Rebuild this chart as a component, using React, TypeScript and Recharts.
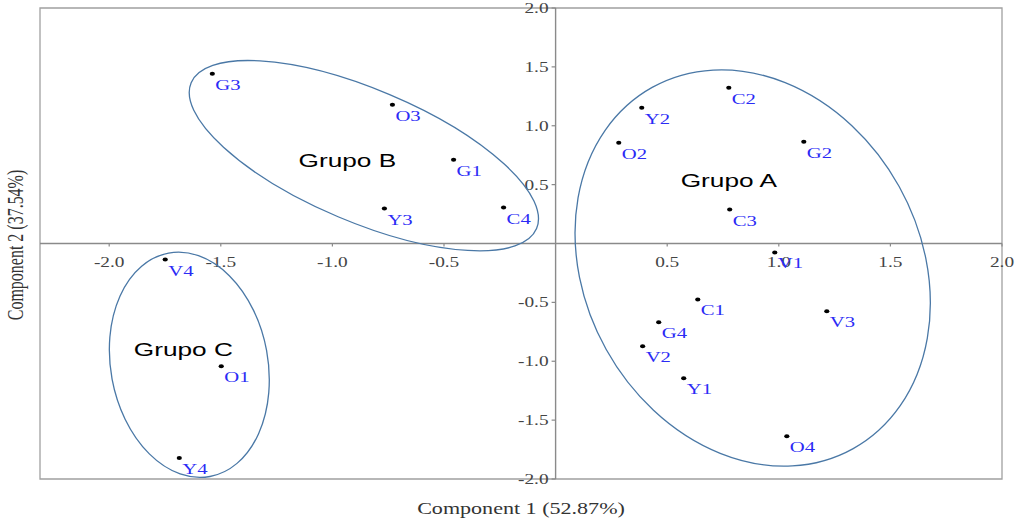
import {
  ScatterChart,
  Scatter,
  XAxis,
  YAxis,
  ReferenceLine,
  ReferenceDot,
  ReferenceArea,
} from "recharts";

// sample scores
const labels = ["G3", "O3", "G1", "Y3", "C4", "V4", "O1", "Y4", "C2", "Y2", "O2", "G2", "C3", "V1", "C1", "V3", "G4", "V2", "Y1", "O4"];
const comp1 = [-1.538, -0.731, -0.457, -0.767, -0.233, -1.749, -1.498, -1.686, 0.776, 0.386, 0.283, 1.112, 0.78, 0.982, 0.637, 1.215, 0.462, 0.39, 0.574, 1.036];
const comp2 = [1.441, 1.178, 0.712, 0.297, 0.305, -0.136, -1.042, -1.822, 1.322, 1.153, 0.856, 0.864, 0.288, -0.076, -0.475, -0.576, -0.669, -0.873, -1.144, -1.636];

const xTicks = [-2.0, -1.5, -1.0, -0.5, 0.5, 1.0, 1.5, 2.0];
const yTicks = [2.0, 1.5, 1.0, 0.5, -0.5, -1.0, -1.5, -2.0];

// group annotations
const groupNames = ["Grupo A", "Grupo B", "Grupo C"];
const groupLabelX = [0.776, -0.933, -1.668];
const groupLabelY = [0.483, 0.653, -0.958];
const ellipseX = [0.883, -0.859, -1.641];
const ellipseY = [-0.208, 0.746, -1.03];
// semi-axes in Component 1 units, angle in screen degrees
const ellipseA = [0.926, 0.84, 0.509];
const ellipseB = [0.751, 0.297, 0.352];
const ellipseAngle = [60.9, 22.9, 79.5];

const X_MIN = -2.31;
const X_MAX = 2;
const W = 1018;
const H = 521;
const margin = { top: 8, right: 16, bottom: 42, left: 40 };
const PX = (W - margin.left - margin.right) / (X_MAX - X_MIN);
const SX = 1.38; // the source image is stretched sideways

const serif = "'Liberation Serif', 'Times New Roman', serif";
const sans = "'Liberation Sans', Arial, sans-serif";
const axisGray = "#8a8a8a";

const points = labels.map((name, i) => ({ name, x: comp1[i], y: comp2[i] }));

const PointShape = (p: any) => (
  <g>
    <ellipse cx={p.cx} cy={p.cy} rx={2.6} ry={2} fill="#000" />
    <text
      transform={`translate(${p.cx + 3},${p.cy + 16}) scale(${SX},1)`}
      fontFamily={serif}
      fontSize={15}
      fill="#2b2bf5"
    >
      {p.payload.name}
    </text>
  </g>
);

const xTickShape = (t: number) => (p: any) => (
  <g>
    <line x1={p.cx} y1={p.cy} x2={p.cx} y2={p.cy + 3} stroke={axisGray} strokeWidth={1.2} />
    <text
      transform={`translate(${p.cx},${p.cy + 23}) scale(${SX},1)`}
      textAnchor="middle"
      fontFamily={serif}
      fontSize={14}
      fill="#444"
    >
      {t.toFixed(1)}
    </text>
  </g>
);

const yTickShape = (t: number) => (p: any) => (
  <g>
    <line x1={p.cx - 4} y1={p.cy} x2={p.cx} y2={p.cy} stroke={axisGray} strokeWidth={1.2} />
    <text
      transform={`translate(${p.cx - 7},${p.cy + 5}) scale(${SX},1)`}
      textAnchor="end"
      fontFamily={serif}
      fontSize={14}
      fill="#444"
    >
      {t.toFixed(1)}
    </text>
  </g>
);

const ellipseShape = (i: number) => (p: any) => (
  <ellipse
    cx={p.cx}
    cy={p.cy}
    rx={ellipseA[i] * PX}
    ry={ellipseB[i] * PX}
    transform={`rotate(${ellipseAngle[i]} ${p.cx} ${p.cy})`}
    fill="none"
    stroke="#4a78a6"
    strokeWidth={1.3}
  />
);

const groupShape = (i: number) => (p: any) => (
  <text
    transform={`translate(${p.cx},${p.cy}) scale(${SX},1)`}
    textAnchor="middle"
    fontFamily={sans}
    fontSize={19}
    fill="#000"
  >
    {groupNames[i]}
  </text>
);

export default function App() {
  return (
    <div style={{ position: "absolute", left: 0, top: 0, width: W, height: H, background: "#fff" }}>
      <ScatterChart width={W} height={H} margin={margin}>
        <XAxis type="number" dataKey="x" domain={[X_MIN, X_MAX]} allowDataOverflow hide />
        <YAxis type="number" dataKey="y" domain={[-2, 2]} allowDataOverflow hide />
        <ReferenceArea
          x1={X_MIN}
          x2={X_MAX}
          y1={-2}
          y2={2}
          fill="none"
          stroke="#a0a0a0"
          strokeWidth={1.3}
          ifOverflow="visible"
        />
        <ReferenceLine x={0} stroke={axisGray} strokeWidth={1.4} />
        <ReferenceLine y={0} stroke={axisGray} strokeWidth={1.4} />
        {xTicks.map((t) => (
          <ReferenceDot key={"x" + t} x={t} y={0} r={0} ifOverflow="visible" shape={xTickShape(t)} />
        ))}
        {yTicks.map((t) => (
          <ReferenceDot key={"y" + t} x={0} y={t} r={0} ifOverflow="visible" shape={yTickShape(t)} />
        ))}
        {groupNames.map((g, i) => (
          <ReferenceDot key={"e" + g} x={ellipseX[i]} y={ellipseY[i]} r={0} ifOverflow="visible" shape={ellipseShape(i)} />
        ))}
        {groupNames.map((g, i) => (
          <ReferenceDot key={"g" + g} x={groupLabelX[i]} y={groupLabelY[i]} r={0} ifOverflow="visible" shape={groupShape(i)} />
        ))}
        <Scatter data={points} shape={PointShape} isAnimationActive={false} />
      </ScatterChart>
      <svg width={W} height={H} style={{ position: "absolute", left: 0, top: 0, pointerEvents: "none" }}>
        <text
          transform={`translate(521,514) scale(${SX},1)`}
          textAnchor="middle"
          fontFamily={serif}
          fontSize={16}
          fill="#333"
        >
          Component 1 (52.87%)
        </text>
        <text
          transform={`translate(23,245) scale(${SX},1) rotate(-90)`}
          textAnchor="middle"
          fontFamily={serif}
          fontSize={16}
          fill="#333"
        >
          Component 2 (37.54%)
        </text>
      </svg>
    </div>
  );
}
